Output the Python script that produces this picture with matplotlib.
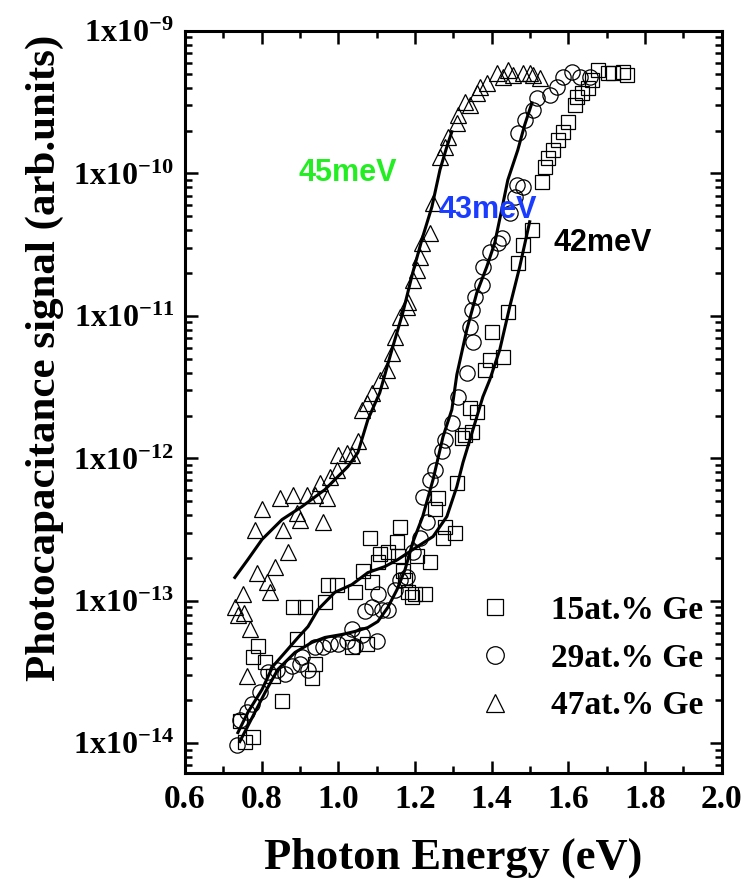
import numpy as np
import matplotlib
matplotlib.use('Agg')
import matplotlib.pyplot as plt
from matplotlib.ticker import FixedLocator, MultipleLocator, LogLocator, NullFormatter

plt.rcParams['font.family'] = 'Liberation Serif'
plt.rcParams['font.weight'] = 'bold'
plt.rcParams['mathtext.fontset'] = 'custom'
plt.rcParams['mathtext.rm'] = 'Liberation Serif:bold'
plt.rcParams['mathtext.bf'] = 'Liberation Serif:bold'
plt.rcParams['mathtext.it'] = 'Liberation Serif:bold'

# 15at.% Ge (squares)
ge15_x = [0.743, 0.756, 0.777, 0.777, 0.790, 0.809, 0.829, 0.853, 0.882, 0.892, 0.913, 0.931,
          0.939, 0.965, 0.973, 0.996, 1.035, 1.043, 1.064, 1.074, 1.082, 1.087, 1.103, 1.108,
          1.129, 1.153, 1.155, 1.160, 1.168, 1.174, 1.181, 1.192, 1.200, 1.205, 1.226, 1.239,
          1.252, 1.260, 1.273, 1.278, 1.304, 1.309, 1.322, 1.330, 1.343, 1.348, 1.361, 1.382,
          1.395, 1.400, 1.429, 1.442, 1.468, 1.481, 1.505, 1.531, 1.538, 1.546, 1.559, 1.572,
          1.585, 1.598, 1.617, 1.622, 1.635, 1.651, 1.661, 1.677, 1.703, 1.716, 1.742, 1.752]
ge15_y = [1.43e-14, 1.03e-14, 1.1e-14, 4.01e-14, 4.79e-14, 3.7e-14, 2.95e-14, 1.97e-14, 9.0e-14,
          5.36e-14, 9.0e-14, 2.9e-14, 3.58e-14, 9.9e-14, 1.3e-13, 1.3e-13, 4.71e-14, 1.15e-13,
          1.61e-13, 4.95e-14, 2.78e-13, 1.35e-13, 1.89e-13, 2.12e-13, 2.19e-13, 2.61e-13,
          2.05e-13, 3.32e-13, 1.61e-13, 1.41e-13, 1.15e-13, 1.06e-13, 1.11e-13, 2.05e-13,
          1.11e-13, 1.89e-13, 4.38e-13, 5.31e-13, 2.78e-13, 3.32e-13, 3.02e-13, 6.77e-13,
          1.4e-12, 1.47e-12, 2.27e-12, 1.54e-12, 2.1e-12, 4.2e-12, 4.93e-12, 7.75e-12, 5.17e-12,
          1.07e-11, 2.36e-11, 3.16e-11, 4.02e-11, 8.73e-11, 1.11e-10, 1.29e-10, 1.46e-10,
          1.72e-10, 1.96e-10, 2.3e-10, 3.03e-10, 3.44e-10, 3.67e-10, 3.98e-10, 4.53e-10,
          5.33e-10, 5.08e-10, 5.08e-10, 5.16e-10, 4.91e-10]

# 29at.% Ge (circles)
ge29_x = [0.736, 0.743, 0.762, 0.775, 0.796, 0.816, 0.840, 0.861, 0.879, 0.900, 0.905, 0.921,
          0.939, 0.960, 0.978, 0.999, 1.022, 1.035, 1.043, 1.061, 1.069, 1.087, 1.100, 1.103,
          1.114, 1.129, 1.147, 1.160, 1.179, 1.194, 1.213, 1.231, 1.220, 1.239, 1.252, 1.270,
          1.278, 1.296, 1.312, 1.335, 1.351, 1.343, 1.348, 1.356, 1.374, 1.377, 1.395, 1.416,
          1.426, 1.447, 1.460, 1.466, 1.481, 1.468, 1.486, 1.507, 1.518, 1.552, 1.570, 1.585,
          1.609, 1.630, 1.656]
ge29_y = [9.8e-15, 1.47e-14, 1.65e-14, 1.88e-14, 2.28e-14, 3.15e-14, 3.3e-14, 3.05e-14,
          3.47e-14, 3.58e-14, 4.07e-14, 3.3e-14, 4.71e-14, 4.71e-14, 4.95e-14, 4.95e-14,
          5.19e-14, 6.3e-14, 4.79e-14, 5.81e-14, 8.43e-14, 9.0e-14, 5.19e-14, 1.11e-13,
          8.7e-14, 8.7e-14, 1.2e-13, 1.41e-13, 1.46e-13, 2.19e-13, 2.78e-13, 3.6e-13, 5.4e-13,
          7.1e-13, 8.35e-13, 1.12e-12, 1.35e-12, 1.78e-12, 2.71e-12, 4.0e-12, 6.59e-12,
          8.4e-12, 1.1e-11, 1.36e-11, 1.66e-11, 2.21e-11, 2.82e-11, 3.26e-11, 3.53e-11,
          5.3e-11, 6.85e-11, 8.3e-11, 8.0e-11, 1.93e-10, 2.38e-10, 2.79e-10, 3.39e-10,
          3.56e-10, 4.05e-10, 4.76e-10, 5.16e-10, 4.76e-10, 4.76e-10]

# 47at.% Ge (triangles)
ge47_x = [0.730, 0.738, 0.751, 0.754, 0.762, 0.769, 0.782, 0.788, 0.801, 0.814, 0.822, 0.835,
          0.848, 0.855, 0.869, 0.882, 0.892, 0.900, 0.918, 0.939, 0.952, 0.960, 0.970, 0.978,
          0.996, 0.999, 1.022, 1.035, 1.051, 1.061, 1.074, 1.087, 1.108, 1.127, 1.140, 1.147,
          1.160, 1.179, 1.181, 1.194, 1.205, 1.213, 1.218, 1.239, 1.247, 1.265, 1.278, 1.286,
          1.309, 1.312, 1.330, 1.343, 1.361, 1.369, 1.387, 1.413, 1.429, 1.442, 1.455, 1.481,
          1.499, 1.507, 1.525]
ge47_y = [9.0e-14, 8.0e-14, 1.11e-13, 8.2e-14, 2.95e-14, 6.3e-14, 3.17e-13, 1.58e-13,
          4.38e-13, 1.35e-13, 1.15e-13, 1.74e-13, 5.31e-13, 3.17e-13, 2.22e-13, 5.57e-13,
          4.17e-13, 3.72e-13, 5.57e-13, 5.57e-13, 6.77e-13, 3.6e-13, 5.31e-13, 7.45e-13,
          8.35e-13, 1.06e-12, 1.1e-12, 1.06e-12, 1.33e-12, 2.2e-12, 2.46e-12, 2.89e-12,
          3.57e-12, 4.2e-12, 5.52e-12, 7.14e-12, 9.87e-12, 1.16e-11, 1.26e-11, 1.79e-11,
          2.11e-11, 2.6e-11, 3.26e-11, 3.83e-11, 6.2e-11, 1.31e-10, 1.54e-10, 1.81e-10,
          2.26e-10, 2.58e-10, 3.18e-10, 3.03e-10, 3.67e-10, 4.05e-10, 4.32e-10, 5.08e-10,
          4.76e-10, 5.33e-10, 4.91e-10, 5.08e-10, 5.08e-10, 4.91e-10, 4.68e-10]

# fitted curves
fit15_x = [0.738, 0.764, 0.801, 0.829, 0.861, 0.895, 0.921, 0.947, 0.991, 1.035, 1.077, 1.121,
           1.155, 1.194, 1.247, 1.283, 1.309, 1.325, 1.351, 1.377, 1.395, 1.421, 1.447, 1.473, 1.499]
fit15_y = [1.19e-14, 1.65e-14, 2.39e-14, 3.47e-14, 4.35e-14, 5.54e-14, 6.61e-14, 8.7e-14,
           1.15e-13, 1.3e-13, 1.58e-13, 1.74e-13, 1.95e-13, 2.29e-13, 2.83e-13, 3.91e-13,
           6.34e-13, 9.35e-13, 1.59e-12, 2.71e-12, 3.57e-12, 5.79e-12, 1.16e-11, 2.21e-11, 4.58e-11]
fit29_x = [0.743, 0.777, 0.809, 0.842, 0.887, 0.931, 0.965, 1.009, 1.043, 1.077, 1.103, 1.129,
           1.153, 1.174, 1.194, 1.220, 1.247, 1.273, 1.296, 1.309, 1.335, 1.361, 1.387, 1.408,
           1.426, 1.442, 1.468, 1.486, 1.505]
fit29_y = [1.03e-14, 1.55e-14, 2.28e-14, 3.3e-14, 4.35e-14, 5.11e-14, 5.54e-14, 5.81e-14,
           6.1e-14, 6.5e-14, 7.17e-14, 9.0e-14, 1.2e-13, 1.66e-13, 2.57e-13, 3.91e-13, 7.1e-13,
           1.42e-12, 2.2e-12, 3.87e-12, 8.0e-12, 1.45e-11, 2.21e-11, 3.26e-11, 5.56e-11,
           9.0e-11, 1.46e-10, 2.19e-10, 3.13e-10]
fit47_x = [0.730, 0.764, 0.801, 0.853, 0.905, 0.965, 0.991, 1.025, 1.051, 1.077, 1.108, 1.142,
           1.168, 1.194, 1.220, 1.244, 1.265, 1.283, 1.296]
fit47_y = [1.46e-13, 1.95e-13, 2.7e-13, 3.72e-13, 4.59e-13, 6.04e-13, 7.1e-13, 8.77e-13,
           1.1e-12, 1.87e-12, 2.89e-12, 6.08e-12, 1.05e-11, 2.01e-11, 3.59e-11, 5.83e-11,
           1.06e-10, 1.54e-10, 1.96e-10]

labels = ['15at.% Ge', '29at.% Ge', '47at.% Ge']
ytick_vals = [1e-14, 1e-13, 1e-12, 1e-11, 1e-10, 1e-9]
ytick_text = [r'$\mathbf{1x10^{%d}}$' % e for e in range(-14, -8)]

fig = plt.figure(figsize=(7.55, 8.84), dpi=100)
ax = fig.add_axes([0.245, 0.1256, 0.711, 0.8394])

ms = dict(mfc='none', mec='black', mew=0.9, ls='none')
ax.plot(ge15_x, ge15_y, marker='s', ms=10, label=labels[0], **ms)
ax.plot(ge29_x, ge29_y, marker='o', ms=11, label=labels[1], **ms)
ax.plot(ge47_x, ge47_y, marker='^', ms=11, label=labels[2], **ms)

for fx, fy in [(fit15_x, fit15_y), (fit29_x, fit29_y), (fit47_x, fit47_y)]:
    ax.plot(fx, fy, color='black', lw=2.2)

ax.set_yscale('log')
ax.set_xlim(0.6, 2.0)
ax.set_ylim(6.2e-15, 1e-9)

ax.xaxis.set_major_locator(MultipleLocator(0.2))
ax.xaxis.set_minor_locator(MultipleLocator(0.1))
ax.yaxis.set_major_locator(FixedLocator(ytick_vals))
ax.yaxis.set_minor_locator(LogLocator(base=10, subs=np.arange(2, 10)))
ax.yaxis.set_minor_formatter(NullFormatter())
ax.set_yticklabels(ytick_text)
ax.set_xticklabels(['%.1f' % v for v in ax.get_xticks()])

ax.tick_params(which='both', direction='in', top=True, right=True, width=1.8, pad=8)
ax.tick_params(axis='x', labelsize=24)
ax.tick_params(axis='y', labelsize=23)
ax.tick_params(which='major', length=9)
ax.tick_params(which='minor', length=5)
for s in ax.spines.values():
    s.set_linewidth(2.2)

ax.set_xlabel('Photon Energy (eV)', fontsize=32, fontweight='bold', labelpad=16)
ax.set_ylabel('Photocapacitance signal (arb.units)', fontsize=31, fontweight='bold')
ax.yaxis.set_label_coords(-0.225, 0.56)

ax.text(1.025, 1.0e-10, '45meV', color='#22ee22', fontsize=22, fontweight='bold',
        family='Liberation Sans', ha='center', va='center')
ax.text(1.39, 5.5e-11, '43meV', color='#1a3cff', fontsize=22, fontweight='bold',
        family='Liberation Sans', ha='center', va='center')
ax.text(1.69, 3.26e-11, '42meV', color='black', fontsize=22, fontweight='bold',
        family='Liberation Sans', ha='center', va='center')

ax.legend(loc='upper left', bbox_to_anchor=(0.49, 0.258), frameon=False, fontsize=24,
          handletextpad=0.7, labelspacing=0.5, borderaxespad=0, markerscale=1.15)

fig.savefig('out.png', dpi=100)
